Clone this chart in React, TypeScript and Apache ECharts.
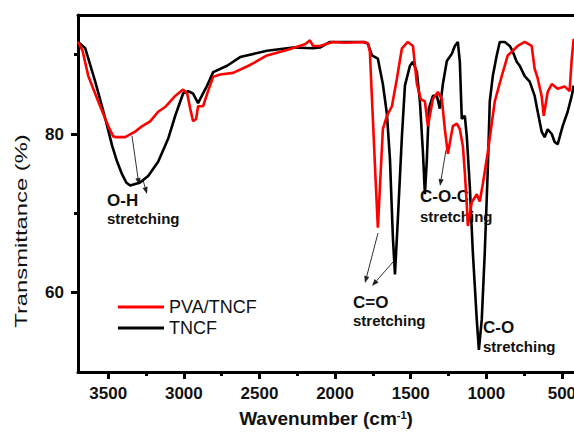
import { useEffect, useRef } from "react";
import * as echarts from "echarts";

// PVA/TNCF (red)
const redWn = [3700, 3670, 3632, 3566, 3500, 3467, 3447, 3388, 3322, 3275, 3223, 3170, 3124, 3057, 3005, 2978, 2958, 2939, 2919, 2906, 2873, 2840, 2806, 2760, 2674, 2562, 2450, 2318, 2199, 2166, 2146, 2100, 2014, 1935, 1803, 1783, 1770, 1750, 1730, 1717, 1703, 1684, 1657, 1624, 1591, 1558, 1519, 1485, 1459, 1433, 1406, 1386, 1353, 1320, 1294, 1274, 1254, 1221, 1195, 1175, 1155, 1142, 1129, 1122, 1096, 1063, 1043, 1023, 990, 944, 898, 858, 792, 746, 700, 680, 660, 634, 620, 594, 567, 528, 482, 449, 435, 422];
const redT = [91.6, 90.5, 87.3, 84.1, 81.0, 79.7, 79.6, 79.6, 80.3, 81.0, 81.6, 82.8, 83.4, 84.8, 85.6, 85.1, 83.2, 81.6, 81.9, 83.5, 83.5, 85.4, 87.2, 87.5, 87.7, 88.7, 89.9, 90.6, 91.3, 91.8, 91.1, 91.1, 91.6, 91.5, 91.6, 91.4, 90.4, 81.9, 73.4, 68.2, 73.4, 80.6, 82.3, 83.5, 87.0, 90.8, 91.6, 91.1, 86.3, 84.4, 84.1, 81.0, 84.4, 85.3, 84.4, 80.6, 77.5, 81.0, 81.3, 80.6, 78.5, 75.2, 71.1, 68.4, 71.4, 72.4, 71.5, 73.7, 77.7, 84.1, 87.3, 89.9, 91.1, 91.6, 91.1, 88.2, 87.0, 84.8, 82.3, 85.3, 86.3, 85.7, 86.0, 85.4, 89.5, 92.0];

// TNCF (black)
const tncfWn = [3700, 3652, 3586, 3540, 3507, 3474, 3441, 3408, 3381, 3355, 3322, 3289, 3236, 3170, 3104, 3057, 3005, 2972, 2939, 2906, 2879, 2846, 2806, 2714, 2628, 2450, 2278, 2146, 2100, 2034, 1816, 1783, 1756, 1717, 1684, 1657, 1637, 1618, 1604, 1585, 1558, 1538, 1505, 1485, 1459, 1439, 1419, 1406, 1393, 1380, 1353, 1327, 1307, 1287, 1261, 1228, 1208, 1188, 1175, 1162, 1142, 1129, 1109, 1089, 1063, 1049, 1030, 1010, 990, 977, 957, 931, 911, 878, 845, 825, 799, 779, 746, 713, 680, 660, 634, 614, 594, 567, 548, 528, 495, 462, 435, 422];
const tncfT = [91.6, 90.8, 86.6, 83.4, 81.0, 78.5, 76.5, 74.9, 73.9, 73.5, 73.7, 73.9, 74.7, 76.5, 79.4, 82.3, 85.1, 85.4, 85.1, 83.9, 84.9, 86.1, 87.8, 88.6, 89.7, 90.5, 90.9, 90.8, 90.9, 91.6, 91.6, 91.4, 89.9, 89.5, 86.3, 82.5, 76.8, 67.1, 62.3, 69.2, 79.7, 86.1, 88.6, 89.1, 87.8, 84.1, 77.7, 72.4, 76.8, 83.2, 84.8, 84.8, 83.2, 86.3, 89.2, 90.1, 91.1, 91.6, 89.1, 81.9, 82.3, 79.7, 73.4, 65.1, 56.6, 52.8, 56.6, 65.1, 75.6, 84.1, 87.3, 89.9, 91.6, 91.6, 91.1, 90.4, 89.1, 88.6, 87.3, 86.6, 84.8, 82.8, 80.3, 79.6, 80.6, 80.0, 79.0, 78.7, 81.0, 82.8, 84.8, 86.1];

const xMajor = [3500, 3000, 2500, 2000, 1500, 1000, 500];
const xMinor = [3250, 2750, 2250, 1750, 1250, 750];
const yMajor = [60, 80];
const yMinor = [70, 90];

const seriesNames = ["PVA/TNCF", "TNCF"];

const FF = "'Liberation Sans', Arial, Helvetica, sans-serif";

function arrow(x1: number, y1: number, x2: number, y2: number) {
  const dx = x2 - x1;
  const dy = y2 - y1;
  const len = Math.sqrt(dx * dx + dy * dy);
  const ux = dx / len;
  const uy = dy / len;
  const hl = 7;
  const hw = 2.6;
  const bx = x2 - ux * hl;
  const by = y2 - uy * hl;
  return [
    {
      type: "line",
      shape: { x1, y1, x2: bx, y2: by },
      style: { stroke: "#333", lineWidth: 1 },
      silent: true,
    },
    {
      type: "polygon",
      shape: {
        points: [
          [x2, y2],
          [bx - uy * hw, by + ux * hw],
          [bx + uy * hw, by - ux * hw],
        ],
      },
      style: { fill: "#222" },
      silent: true,
    },
  ];
}

function label(text: string, x: number, y: number, size: number) {
  return {
    type: "text",
    x,
    y,
    style: {
      text,
      fontSize: size,
      fontWeight: "bold",
      fontFamily: FF,
      fill: "#111",
      align: "left",
      verticalAlign: "middle",
    },
    silent: true,
  };
}

const plain = (v: number) => String(v);

export default function App() {
  const ref = useRef<HTMLDivElement>(null);
  useEffect(() => {
    const el = ref.current!;
    const chart = echarts.init(el, null, { renderer: "svg" });
    const axisCommon = {
      type: "value" as const,
      min: 420,
      max: 3700,
      inverse: true,
      splitLine: { show: false },
    };
    const yCommon = {
      type: "value" as const,
      min: 50,
      max: 95,
      splitLine: { show: false },
    };
    const option: any = {
      animation: false,
      backgroundColor: "#fff",
      grid: { left: 78, right: 0, top: 15, bottom: 60, containLabel: false, outerBoundsMode: "none" },
      legend: {
        data: seriesNames,
        orient: "vertical",
        left: 113,
        top: 293,
        icon: "rect",
        itemWidth: 46,
        itemHeight: 3,
        itemGap: 3,
        textStyle: { fontSize: 18, fontFamily: FF, color: "#111", lineHeight: 18 },
      },
      xAxis: [
        {
          ...axisCommon,
          position: "bottom",
          axisLine: { show: true, onZero: false, lineStyle: { color: "#000", width: 3 } },
          axisTick: { show: true, inside: false, length: 7, lineStyle: { color: "#000", width: 3 }, customValues: xMajor },
          axisLabel: { customValues: xMajor, formatter: plain, margin: 13, fontSize: 17, fontWeight: "bold", color: "#111", fontFamily: FF },
          name: "Wavenumber (cm{sup|-1})",
          nameLocation: "middle",
          nameGap: 37,
          nameTextStyle: {
            fontSize: 19,
            fontWeight: "bold",
            fontFamily: FF,
            color: "#111",
            rich: { sup: { fontSize: 11, fontWeight: "bold", fontFamily: FF, color: "#111", verticalAlign: "top" } },
          },
        },
        {
          ...axisCommon,
          position: "bottom",
          axisLine: { show: false },
          axisTick: { show: true, inside: false, length: 4, lineStyle: { color: "#000", width: 3 }, customValues: xMinor },
          axisLabel: { show: false },
        },
        {
          ...axisCommon,
          position: "top",
          axisLine: { show: true, onZero: false, lineStyle: { color: "#000", width: 3 } },
          axisTick: { show: false },
          axisLabel: { show: false },
        },
      ],
      yAxis: [
        {
          ...yCommon,
          position: "left",
          axisLine: { show: true, onZero: false, lineStyle: { color: "#000", width: 3 } },
          axisTick: { show: true, inside: false, length: 7, lineStyle: { color: "#000", width: 3 }, customValues: yMajor },
          axisLabel: { customValues: yMajor, formatter: plain, margin: 14, fontSize: 17, fontWeight: "bold", color: "#111", fontFamily: FF },
        },
        {
          ...yCommon,
          position: "left",
          axisLine: { show: false },
          axisTick: { show: true, inside: false, length: 4, lineStyle: { color: "#000", width: 3 }, customValues: yMinor },
          axisLabel: { show: false },
        },
      ],
      series: [
        {
          name: seriesNames[1],
          type: "line",
          xAxisIndex: 0,
          yAxisIndex: 0,
          symbol: "none",
          showSymbol: false,
          lineStyle: { color: "#000", width: 2.6 },
          itemStyle: { color: "#000" },
          data: tncfWn.map((w, i) => [w, tncfT[i]]),
          z: 2,
        },
        {
          name: seriesNames[0],
          type: "line",
          xAxisIndex: 0,
          yAxisIndex: 0,
          symbol: "none",
          showSymbol: false,
          lineStyle: { color: "#ff0000", width: 2.6 },
          itemStyle: { color: "#ff0000" },
          data: redWn.map((w, i) => [w, redT[i]]),
          z: 3,
        },
      ],
      graphic: [
        {
          type: "text",
          x: 21,
          y: 231,
          rotation: Math.PI / 2,
          scaleX: 1.4,
          style: {
            text: "Transmittance (%)",
            fontSize: 17,
            fontFamily: FF,
            fill: "#111",
            align: "center",
            verticalAlign: "middle",
          },
          silent: true,
        },
        ...arrow(132, 136, 139, 185),
        ...arrow(143, 180, 147, 194),
        ...arrow(378, 233, 365, 283),
        ...arrow(393, 262, 372, 286),
        ...arrow(446, 150, 440, 186),
        label("O-H", 107, 200, 17),
        label("stretching", 107, 218, 15),
        label("C=O", 353, 302, 17),
        label("stretching", 353, 320, 15),
        label("C-O-C", 420, 196, 17),
        label("stretching", 420, 216, 15),
        label("C-O", 483, 327, 17),
        label("stretching", 483, 346, 15),
      ],
    };
    chart.setOption(option);
    return () => chart.dispose();
  }, []);
  return (
    <div
      ref={ref}
      style={{ position: "fixed", left: 0, top: 0, width: 574, height: 432, background: "#fff" }}
    />
  );
}
